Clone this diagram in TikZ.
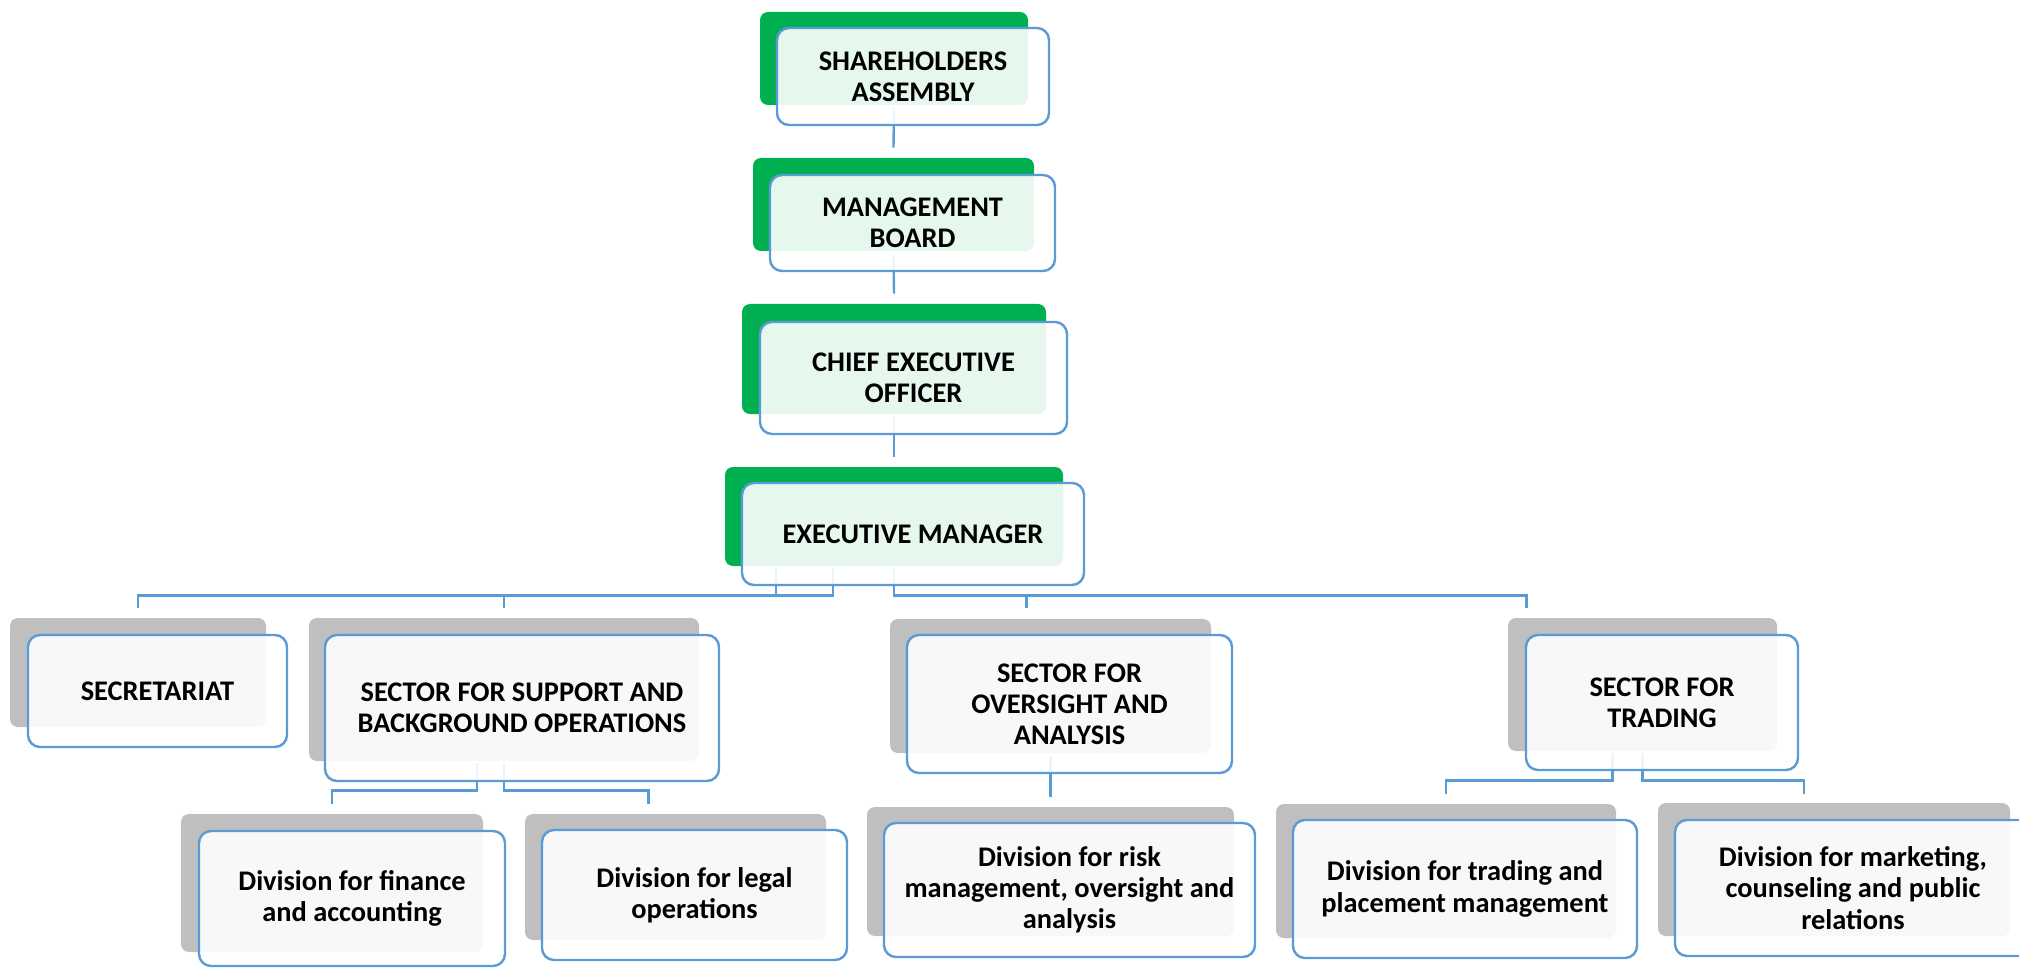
\documentclass[tikz,border=0pt]{standalone}
\usepackage{fontspec}
\setmainfont{Carlito}
\usetikzlibrary{calc,fit}
\definecolor{ceogreen}{HTML}{00B050}
\definecolor{unitgray}{HTML}{BFBFBF}
\definecolor{linkblue}{HTML}{5B9BD5}
\tikzset{
  backbox/.style={rounded corners=4pt, inner sep=0pt, draw=none},
  greenback/.style={backbox, fill=ceogreen},
  grayback/.style={backbox, fill=unitgray},
  frontbox/.style={rounded corners=6pt, inner sep=0pt, draw=linkblue, line width=1.2pt,
    fill=white, fill opacity=0.9},
  title/.style={inner sep=0pt, align=center, font=\fontsize{14.2}{15.6}\selectfont\bfseries},
  link/.style={draw=linkblue, line width=1.2pt},
}
\begin{document}
\begin{tikzpicture}[x=0.5pt,y=-0.5pt]
\useasboundingbox (0,0) rectangle (2019,968);

% shadow plates behind each unit
\node[greenback, fit={(760,12) (1028,105)}]  (sa-b)  {};
\node[greenback, fit={(753,158) (1034,251)}] (mb-b)  {};
\node[greenback, fit={(742,304) (1046,414)}] (ceo-b) {};
\node[greenback, fit={(725,467) (1063,566)}] (em-b)  {};
\node[grayback, fit={(10,618) (266,727)}]    (sec-b) {};
\node[grayback, fit={(309,618) (699,761)}]   (sup-b) {};
\node[grayback, fit={(890,619) (1211,753)}]  (ovs-b) {};
\node[grayback, fit={(1508,618) (1777,751)}] (trd-b) {};
\node[grayback, fit={(181,814) (483,952)}]   (fin-b) {};
\node[grayback, fit={(525,814) (826,940)}]   (leg-b) {};
\node[grayback, fit={(867,807) (1234,936)}]  (rsk-b) {};
\node[grayback, fit={(1276,804) (1616,938)}] (dtr-b) {};
\node[grayback, fit={(1658,803) (2010,936)}] (mkt-b) {};

% reporting lines
\draw[link] ($(sa-b.south)+(0,3)$) -- ($(mb-b.north)+(0,-10)$);
\draw[link] ($(mb-b.south)+(0,3)$) -- ($(ceo-b.north)+(0,-10)$);
\draw[link] ($(ceo-b.south)+(0,3)$) -- ($(em-b.north)+(0,-10)$);

\draw[link] ($(em-b.south)+(-118,2)$) |- ($(sec-b.north)+(0,-22)$) -- ($(sec-b.north)+(0,-10)$);
\draw[link] ($(em-b.south)+(-61,2)$) |- ($(sup-b.north)+(0,-22)$) -- ($(sup-b.north)+(0,-10)$);
\draw[link] ($(em-b.south)+(0,2)$) |- ($(ovs-b.north)+(-24,-23)$) -- ($(ovs-b.north)+(-24,-11)$);
\draw[link] ($(em-b.south)+(0,2)$) |- ($(trd-b.north)+(-116,-22)$) -- ($(trd-b.north)+(-116,-10)$);

\draw[link] ($(sup-b.south)+(-27,2)$) |- ($(fin-b.north)+(0,-23)$) -- ($(fin-b.north)+(0,-10)$);
\draw[link] ($(sup-b.south)+(0,2)$) |- ($(leg-b.north)+(-27,-23)$) -- ($(leg-b.north)+(-27,-10)$);

\draw[link] ($(ovs-b.south)+(0,3)$) -- ($(rsk-b.north)+(0,-10)$);

\draw[link] ($(trd-b.south)+(-30,2)$) |- ($(dtr-b.north)+(0,-23)$) -- ($(dtr-b.north)+(0,-10)$);
\draw[link] ($(trd-b.south)+(0,2)$) |- ($(mkt-b.north)+(-30,-22)$) -- ($(mkt-b.north)+(-30,-9)$);

% unit boxes
\node[frontbox, fit={(777,28) (1049,125)}]   (sa)  {};
\node[frontbox, fit={(770,175) (1055,271)}]  (mb)  {};
\node[frontbox, fit={(760,322) (1067,434)}]  (ceo) {};
\node[frontbox, fit={(742,483) (1084,585)}]  (em)  {};
\node[frontbox, fit={(28,635) (287,747)}]    (sec) {};
\node[frontbox, fit={(325,635) (719,781)}]   (sup) {};
\node[frontbox, fit={(907,635) (1232,773)}]  (ovs) {};
\node[frontbox, fit={(1526,635) (1798,770)}] (trd) {};
\node[frontbox, fit={(199,831) (505,966)}]   (fin) {};
\node[frontbox, fit={(542,830) (847,960)}]   (leg) {};
\node[frontbox, fit={(884,823) (1255,957)}]  (rsk) {};
\node[frontbox, fit={(1293,820) (1637,958)}] (dtr) {};
\node[frontbox, fit={(1675,820) (2031,956)}] (mkt) {};

% unit titles
\node[title] (sa-t)  at (sa.center)  {SHAREHOLDERS\\ASSEMBLY};
\node[title] (mb-t)  at (mb.center)  {MANAGEMENT\\BOARD};
\node[title] (ceo-t) at (ceo.center) {CHIEF EXECUTIVE\\OFFICER};
\node[title] (em-t)  at (em.center)  {EXECUTIVE MANAGER};
\node[title] (sec-t) at (sec.center) {SECRETARIAT};
\node[title] (sup-t) at (sup.center) {SECTOR FOR SUPPORT AND\\BACKGROUND OPERATIONS};
\node[title] (ovs-t) at (ovs.center) {SECTOR FOR\\OVERSIGHT AND\\ANALYSIS};
\node[title] (trd-t) at (trd.center) {SECTOR FOR\\TRADING};
\node[title] (fin-t) at (fin.center) {Division for finance\\and accounting};
\node[title] (leg-t) at (leg.center) {Division for legal\\operations};
\node[title] (rsk-t) at (rsk.center) {Division for risk\\management, oversight and\\analysis};
\node[title] (dtr-t) at (dtr.center) {Division for trading and\\placement management};
\node[title] (mkt-t) at (mkt.center) {Division for marketing,\\counseling and public\\relations};
\end{tikzpicture}
\end{document}
